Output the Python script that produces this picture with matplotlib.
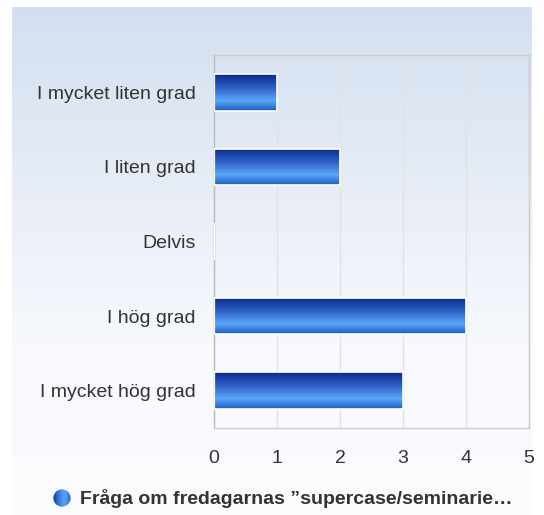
import numpy as np
import matplotlib.pyplot as plt
from matplotlib.colors import LinearSegmentedColormap
from matplotlib.patches import Circle

categories = ['I mycket liten grad', 'I liten grad', 'Delvis', 'I hög grad', 'I mycket hög grad']
values = [1, 2, 0, 4, 3]
xticks = [0, 1, 2, 3, 4, 5]
legend_label = 'Fråga om fredagarnas \u201dsupercase/seminarie\u2026'

plt.rcParams['font.family'] = ['Liberation Sans', 'DejaVu Sans']

fig = plt.figure(figsize=(5.44, 5.15), dpi=100)
fig.patch.set_facecolor('white')

# gradient backdrop panel
bg = fig.add_axes([12 / 544, 0, 520 / 544, 508 / 515], zorder=-10)
bg_cmap = LinearSegmentedColormap.from_list('bg', ['#d3dff0', '#e6ecf6', '#f7f9fd', '#fbfcfe'])
bg.imshow(np.linspace(0, 1, 256).reshape(-1, 1), aspect='auto', cmap=bg_cmap,
          extent=[0, 1, 0, 1], origin='upper')
bg.set_axis_off()

ax = fig.add_axes([214 / 544, 1 - 428 / 515, 315 / 544, 373 / 515])
ax.patch.set_alpha(0)

ypos = np.arange(len(categories))[::-1]
bars = ax.barh(ypos, values, height=0.49, color='none', edgecolor='white', linewidth=1.2, zorder=3)

bar_cmap = LinearSegmentedColormap.from_list(
    'bar', [(0, '#0a2a88'), (0.35, '#2b5cc4'), (0.72, '#5aa6f7'), (1, '#1d5ec6')])
grad = np.linspace(0, 1, 128).reshape(-1, 1)
for b in bars:
    if b.get_width() <= 0:
        continue
    x0, y0, w, h = b.get_x(), b.get_y(), b.get_width(), b.get_height()
    im = ax.imshow(grad, aspect='auto', cmap=bar_cmap, origin='lower',
                   extent=[x0, x0 + w, y0 + h, y0], zorder=2)
    im.set_clip_path(b)
# "Delvis" zero bar shows as a thin white stub
ax.barh(ypos[2], 0.01, height=0.49, color='white', zorder=3)

ax.set_xlim(0, 5)
ax.set_ylim(-0.5, len(categories) - 0.5)
ax.set_xticks(xticks)
ax.set_yticks(ypos)
ax.set_yticklabels(categories)
ax.tick_params(axis='both', length=0, labelsize=14, colors='#333333')
ax.tick_params(axis='y', pad=13)
ax.tick_params(axis='x', pad=16)
ax.grid(axis='x', color='#e2e2e2', linewidth=1, zorder=0)
for side, sp in ax.spines.items():
    sp.set_color('#cccccc')
    sp.set_linewidth(1)
ax.spines['left'].set_color('#bbbbbb')

# legend
mk = fig.add_axes([53 / 544, 1 - 507 / 515, 18 / 544, 18 / 515])
mk.set_axis_off()
mk_cmap = LinearSegmentedColormap.from_list('mk', ['#0b3a9c', '#3a7be0', '#5aa6f7', '#2a66d0'])
mim = mk.imshow(np.linspace(0, 1, 64).reshape(1, -1), aspect='auto', cmap=mk_cmap,
                extent=[0, 1, 0, 1])
circ = Circle((0.5, 0.5), 0.48, transform=mk.transData)
mim.set_clip_path(circ)
mk.set_xlim(0, 1)
mk.set_ylim(0, 1)

fig.text(80 / 544, 1 - 498 / 515, legend_label, fontsize=14, fontweight='bold',
         color='#333333', va='center', ha='left')

fig.savefig('out.png', dpi=100)
